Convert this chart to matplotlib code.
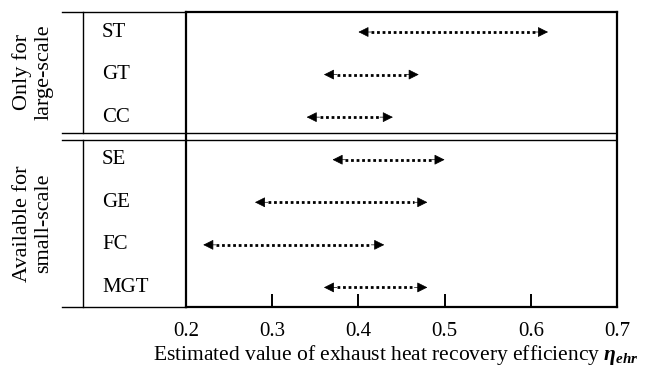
import matplotlib.pyplot as plt
import matplotlib.transforms as mtransforms
from matplotlib.lines import Line2D

plt.rcParams['font.family'] = ['Liberation Serif', 'DejaVu Serif']
plt.rcParams['mathtext.fontset'] = 'custom'
plt.rcParams['mathtext.rm'] = 'Liberation Serif'
plt.rcParams['mathtext.it'] = 'Liberation Serif:italic'
plt.rcParams['mathtext.bf'] = 'Liberation Serif:bold'
plt.rcParams['mathtext.bfit'] = 'Liberation Serif:bold:italic'

# data
techs = ['ST', 'GT', 'CC', 'SE', 'GE', 'FC', 'MGT']
low = [0.40, 0.36, 0.34, 0.37, 0.28, 0.22, 0.36]
high = [0.62, 0.47, 0.44, 0.50, 0.48, 0.43, 0.48]
groups = ['Only for\nlarge-scale', 'Available for\nsmall-scale']
xticks = [0.2, 0.3, 0.4, 0.5, 0.6, 0.7]

W, H = 653, 374
fig = plt.figure(figsize=(W / 100, H / 100), dpi=100)
ax = fig.add_axes([186 / W, 1 - 307 / H, (617 - 186) / W, (307 - 12) / H])

ax.set_xlim(0.2, 0.7)
ax.set_ylim(6.46, -0.47)

for i, t in enumerate(techs):
    a, b = low[i], high[i]
    d = 0.015
    ax.plot([a + d, b - d], [i, i], color='black', lw=2.0,
            linestyle=(0, (1, 1)), dash_capstyle='butt')
    ax.annotate('', xy=(a, i), xytext=(a + d, i),
                arrowprops=dict(arrowstyle='-|>', color='black', lw=0.5,
                                mutation_scale=16, shrinkA=0, shrinkB=0))
    ax.annotate('', xy=(b, i), xytext=(b - d, i),
                arrowprops=dict(arrowstyle='-|>', color='black', lw=0.5,
                                mutation_scale=16, shrinkA=0, shrinkB=0))

# group separator (double line)
sep1, sep2 = 2.37, 2.53
for s in (sep1, sep2):
    ax.axhline(s, color='black', lw=1.0)

ax.set_xticks(xticks)
ax.set_xticklabels([str(x) for x in xticks])
ax.set_yticks([])
ax.tick_params(axis='x', direction='in', length=9.5, width=1.4,
               labelsize=15, pad=11)
for sp in ax.spines.values():
    sp.set_linewidth(1.6)

# left table part
tr = mtransforms.blended_transform_factory(fig.transFigure, ax.transData)
xl, xv, xr = 62 / W, 83 / W, 186 / W
ytop, ybot = -0.47, 6.46
for y in (ytop, sep1, sep2, ybot):
    fig.add_artist(Line2D([xl, xr], [y, y], transform=tr, color='black', lw=1.0))
fig.add_artist(Line2D([xv, xv], [ytop, sep1], transform=tr, color='black', lw=1.0))
fig.add_artist(Line2D([xv, xv], [sep2, ybot], transform=tr, color='black', lw=1.0))

for i, t in enumerate(techs):
    fig.text(102 / W, i, t, transform=tr, ha='left', va='center', fontsize=15)

fig.text(33 / W, (ytop + sep1) / 2, groups[0], transform=tr, rotation=90,
         ha='center', va='center', fontsize=16, linespacing=1.15)
fig.text(33 / W, (sep2 + ybot) / 2, groups[1], transform=tr, rotation=90,
         ha='center', va='center', fontsize=16, linespacing=1.15)

fig.text(396 / W, 1 - 360 / H,
         r'Estimated value of exhaust heat recovery efficiency $\mathbfit{\eta}_{\mathbfit{ehr}}$',
         ha='center', va='baseline', fontsize=15.5)

fig.savefig('out.png', dpi=100)
